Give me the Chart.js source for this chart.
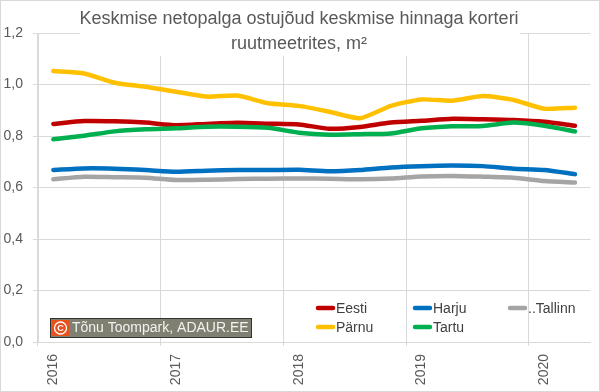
<!DOCTYPE html>
<html>
<head>
<meta charset="utf-8">
<script src="https://cdn.jsdelivr.net/npm/chart.js@4"></script>
<style>
  body { margin: 0; background: #fff; }
</style>
</head>
<body>
<canvas id="graafik" width="600" height="392"></canvas>
<script>
// kvartalid 2016 I kuni 2020 II
let kvartalid = ['2016 I', '2016 II', '2016 III', '2016 IV',
                 '2017 I', '2017 II', '2017 III', '2017 IV',
                 '2018 I', '2018 II', '2018 III', '2018 IV',
                 '2019 I', '2019 II', '2019 III', '2019 IV',
                 '2020 I', '2020 II'];
let aastad = ['2016', '2017', '2018', '2019', '2020'];

let eesti   = [0.847, 0.858, 0.857, 0.852, 0.842, 0.847, 0.851, 0.848, 0.845, 0.828, 0.835, 0.852, 0.859, 0.867, 0.865, 0.862, 0.855, 0.840];
let harju   = [0.668, 0.674, 0.673, 0.668, 0.661, 0.665, 0.668, 0.668, 0.669, 0.663, 0.668, 0.678, 0.683, 0.685, 0.683, 0.673, 0.668, 0.652];
let tallinn = [0.632, 0.642, 0.640, 0.638, 0.629, 0.630, 0.633, 0.634, 0.635, 0.634, 0.632, 0.635, 0.643, 0.645, 0.642, 0.638, 0.625, 0.619];
let parnu   = [1.052, 1.043, 1.007, 0.991, 0.972, 0.953, 0.957, 0.927, 0.917, 0.894, 0.869, 0.917, 0.942, 0.937, 0.955, 0.940, 0.906, 0.910];
let tartu   = [0.787, 0.801, 0.818, 0.826, 0.830, 0.836, 0.836, 0.832, 0.813, 0.805, 0.807, 0.810, 0.830, 0.838, 0.839, 0.852, 0.840, 0.818];

let pealkiri = ['Keskmise netopalga ostujõud keskmise hinnaga korteri', 'ruutmeetrites, m²'];
let allikas = 'Tõnu Toompark, ADAUR.EE';

let seeriad = [
    { nimi: 'Eesti', andmed: eesti, varv: '#c00000', jrk: 5 },
    { nimi: 'Harju', andmed: harju, varv: '#0070c0', jrk: 4 },
    { nimi: '..Tallinn', andmed: tallinn, varv: '#a5a5a5', jrk: 3 },
    { nimi: 'Pärnu', andmed: parnu, varv: '#ffc000', jrk: 2 },
    { nimi: 'Tartu', andmed: tartu, varv: '#00b050', jrk: 1 }
];

var gridVarv = '#d9d9d9';
var tekstVarv = '#595959';

// pealkiri, legend ja allika kast joonistatakse ise
var lisad = {
    id: 'lisad',
    afterDraw: function (chart) {
        var c = chart.ctx;
        c.save();

        // pealkiri valge taustaga
        c.fillStyle = '#fff';
        c.fillRect(80, 0, 440, 56);
        c.fillStyle = tekstVarv;
        c.font = '18px "Liberation Sans"';
        c.textAlign = 'center';
        c.textBaseline = 'middle';
        c.fillText(pealkiri[0], 299, 19);
        c.fillText(pealkiri[1], 299, 44);

        // legend
        var kohad = [[316, 308], [413, 308], [508, 308], [316, 327], [413, 327]];
        c.font = '14px "Liberation Sans"';
        c.textAlign = 'left';
        seeriad.forEach(function (s, i) {
            var x = kohad[i][0], y = kohad[i][1];
            c.strokeStyle = s.varv;
            c.lineWidth = 4.5;
            c.lineCap = 'round';
            c.beginPath();
            c.moveTo(x + 2, y);
            c.lineTo(x + 17, y);
            c.stroke();
            c.fillStyle = '#404040';
            c.fillText(s.nimi, x + 20, y + 1);
        });

        // allika kast
        c.fillStyle = '#808072';
        c.fillRect(51, 319, 200, 18);
        c.strokeStyle = '#333';
        c.lineWidth = 1;
        c.strokeRect(50.5, 318.5, 201, 19);
        c.fillStyle = '#e8501c';
        c.fillRect(52, 320, 17, 16);
        c.strokeStyle = '#fff';
        c.lineWidth = 1.3;
        c.beginPath();
        c.arc(60.5, 328, 6, 0, Math.PI * 2);
        c.stroke();
        c.fillStyle = '#fff';
        c.font = 'bold 9px "Liberation Sans"';
        c.textAlign = 'center';
        c.fillText('C', 60.5, 328.5);
        c.fillStyle = '#f2f2f2';
        c.font = '14px "Liberation Sans"';
        c.textAlign = 'left';
        c.fillText(allikas, 72, 328.5);

        // raam ümber
        c.strokeStyle = gridVarv;
        c.lineWidth = 1;
        c.strokeRect(0.5, 0.5, 599, 391);
        c.restore();
    }
};

var ctx = document.getElementById('graafik').getContext('2d');

var graafik = new Chart(ctx, {
    type: 'line',
    data: {
        labels: kvartalid,
        datasets: seeriad.map(function (s) {
            return {
                label: s.nimi,
                data: s.andmed,
                borderColor: s.varv,
                backgroundColor: s.varv,
                borderWidth: 4.5,
                borderCapStyle: 'round',
                borderJoinStyle: 'round',
                pointRadius: 0,
                tension: 0.2,
                order: s.jrk
            };
        })
    },
    options: {
        responsive: false,
        animation: false,
        layout: { padding: { left: 3, right: 8, top: 33, bottom: 2 } },
        plugins: {
            legend: { display: false },
            title: { display: false },
            tooltip: { enabled: false }
        },
        scales: {
            x: {
                type: 'category',
                offset: true,
                afterFit: function (scale) {
                    scale.height = 48;
                },
                grid: {
                    offset: true,
                    tickLength: 4,
                    color: function (c) {
                        return (c.index % 4 === 0) ? gridVarv : 'rgba(0,0,0,0)';
                    }
                },
                border: { color: gridVarv },
                ticks: {
                    autoSkip: false,
                    maxRotation: 90,
                    minRotation: 90,
                    padding: 8,
                    color: tekstVarv,
                    font: { family: 'Liberation Sans', size: 14 },
                    callback: function (v, i) {
                        return (i % 4 === 0) ? aastad[i / 4] : '';
                    }
                }
            },
            y: {
                min: 0,
                max: 1.2,
                afterFit: function (scale) {
                    scale.width = 35;
                },
                grid: { color: gridVarv, tickLength: 5 },
                border: { color: gridVarv },
                ticks: {
                    stepSize: 0.2,
                    padding: 10,
                    color: tekstVarv,
                    font: { family: 'Liberation Sans', size: 14 },
                    callback: function (v) {
                        return v.toFixed(1).replace('.', ',');
                    }
                }
            }
        }
    },
    plugins: [lisad]
});
</script>
</body>
</html>
